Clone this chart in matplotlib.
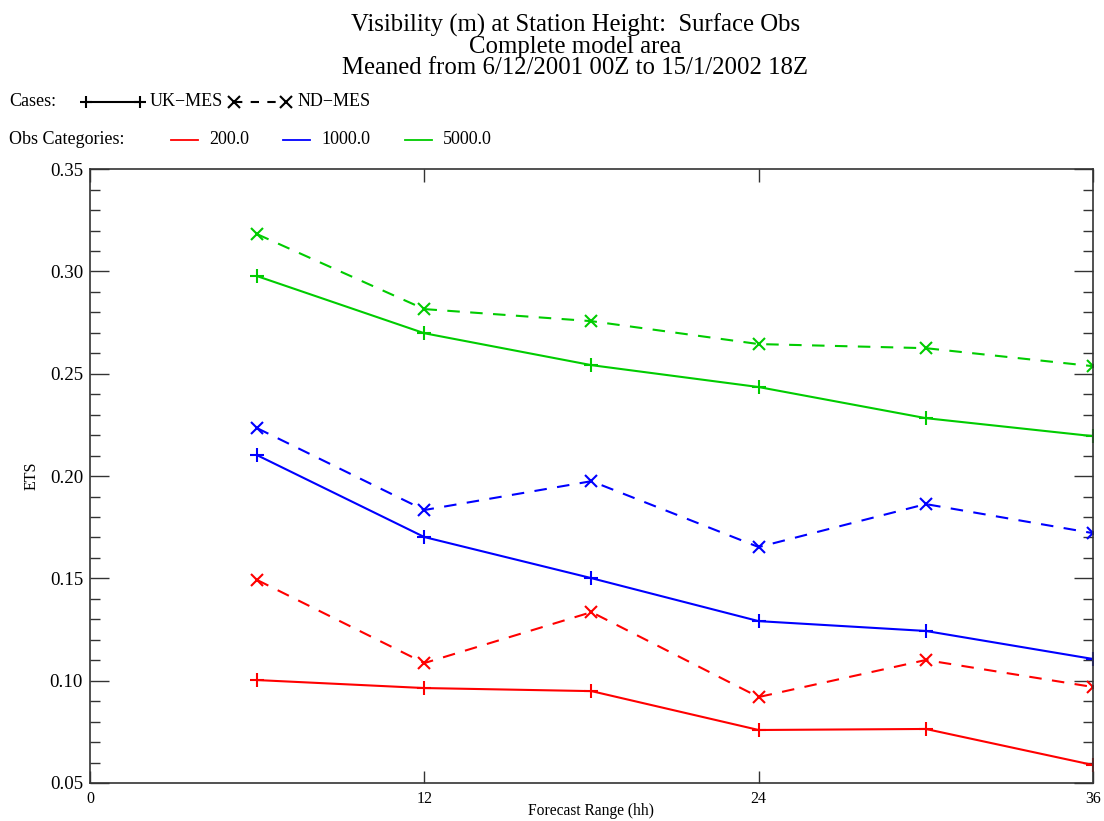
import matplotlib
matplotlib.use('Agg')
import matplotlib.pyplot as plt
from matplotlib.lines import Line2D
from matplotlib.ticker import MultipleLocator

plt.rcParams['font.family'] = ['Liberation Serif', 'DejaVu Serif']

# forecast range (hours)
hours = [6, 12, 18, 24, 30, 36]

# ETS values, UK-MES (solid, +) and ND-MES (dashed, x)
uk_200 = [0.1003, 0.0964, 0.0949, 0.0759, 0.0764, 0.0588]
nd_200 = [0.1492, 0.1086, 0.1335, 0.0920, 0.1101, 0.0969]
uk_1000 = [0.2102, 0.1702, 0.1501, 0.1291, 0.1243, 0.1106]
nd_1000 = [0.2234, 0.1834, 0.1975, 0.1653, 0.1863, 0.1721]
uk_5000 = [0.2977, 0.2698, 0.2542, 0.2435, 0.2283, 0.2195]
nd_5000 = [0.3182, 0.2816, 0.2757, 0.2645, 0.2625, 0.2537]

categories = ['200.0', '1000.0', '5000.0']
colours = ['#ff0000', '#0000ff', '#00cc00']
uk_series = [uk_200, uk_1000, uk_5000]
nd_series = [nd_200, nd_1000, nd_5000]

W, H = 1104.0, 821.0

fig = plt.figure(figsize=(11.04, 8.21), dpi=100)
ax = fig.add_axes([0.0815, 0.0463, 0.9085, 0.7477])

for uk, nd, col in zip(uk_series, nd_series, colours):
    ax.plot(hours, uk, color=col, lw=1.5, marker='+', ms=10, mew=1.5)
    ax.plot(hours, nd, color=col, lw=1.5, ls=(0, (6, 5)), marker='x', ms=9, mew=1.5)

ax.set_xlim(0, 36)
ax.set_ylim(0.05, 0.35)
ax.xaxis.set_major_locator(MultipleLocator(12))
ax.yaxis.set_major_locator(MultipleLocator(0.05))
ax.yaxis.set_minor_locator(MultipleLocator(0.01))
ax.yaxis.set_major_formatter(matplotlib.ticker.FormatStrFormatter('%.2f'))
ax.tick_params(axis='both', which='both', direction='in', top=True, right=True, color='#333333')
ax.tick_params(axis='y', which='major', length=14, width=1, labelsize=13.6, pad=5)
ax.tick_params(axis='y', which='minor', length=7, width=1)
ax.tick_params(axis='x', which='major', length=9, width=1, labelsize=11.5, pad=6)
for s in ax.spines.values():
    s.set_color('#333333')
    s.set_linewidth(1.2)

ax.set_ylabel('ETS', fontsize=11.5, labelpad=7)
fig.text(591 / W, 1 - 811 / H, 'Forecast Range (hh)', ha='center', va='center', fontsize=11.2)

# title
titles = ['Visibility (m) at Station Height:  Surface Obs',
          'Complete model area',
          'Meaned from 6/12/2001 00Z to 15/1/2002 18Z']
for line, base in zip(titles, [32, 53, 74]):
    fig.text(0.521, 1 - base / H, line, ha='center', va='baseline', fontsize=17.8)

# custom legend
y1 = 1 - 102 / H
fig.text(9 / W, y1, 'Cases:', va='center', fontsize=13)
fig.add_artist(Line2D([86 / W, 140 / W], [y1, y1], color='black', lw=1.5,
                      marker='+', ms=9, mew=1.5))
fig.text(150 / W, y1, 'UK\u2212MES', va='center', fontsize=13)
fig.add_artist(Line2D([234 / W, 286 / W], [y1, y1], color='black', lw=1.5,
                      ls=(0, (4, 4)), marker='x', ms=8, mew=1.5))
fig.text(298 / W, y1, 'ND\u2212MES', va='center', fontsize=13)

y2 = 1 - 140 / H
fig.text(9 / W, y2, 'Obs Categories:', va='center', fontsize=13)
starts = [171, 283, 405]
for x0, cat, col in zip(starts, categories, colours):
    fig.add_artist(Line2D([x0 / W, (x0 + 27) / W], [y2, y2], color=col, lw=1.3))
    fig.text((x0 + 38) / W, y2, cat, va='center', fontsize=13)

fig.savefig('out.png', dpi=100)
plt.close(fig)
